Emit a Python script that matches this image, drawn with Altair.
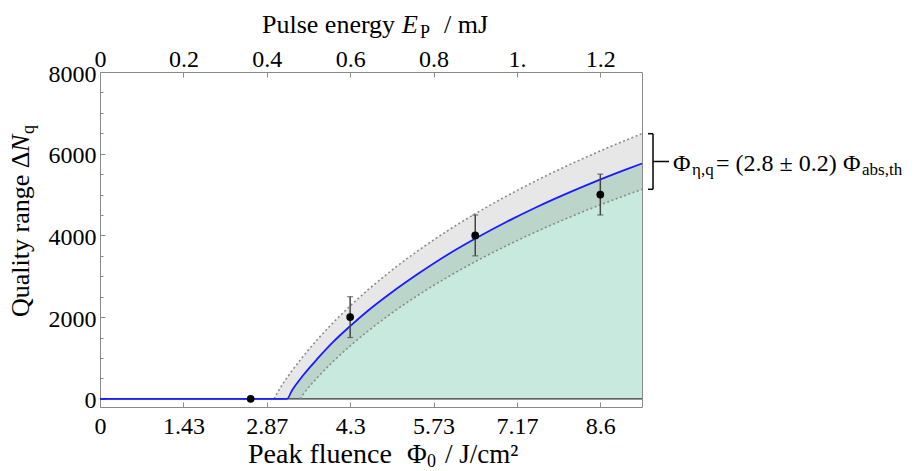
import json

import altair as alt
import pandas as pd

FONT = "'Liberation Serif', 'Times New Roman', serif"

# Top axis: pulse energy (mJ); bottom axis: the matching peak fluence (J/cm^2)
energy_ticks = [0, 0.2, 0.4, 0.6, 0.8, 1.0, 1.2]
energy_labels = ["0", "0.2", "0.4", "0.6", "0.8", "1.", "1.2"]
fluence_labels = ["0", "1.43", "2.87", "4.3", "5.73", "7.17", "8.6"]
FLUENCE_PER_MJ = 8.6 / 1.2
ENERGY_MAX = 1.3

y_major = [0, 2000, 4000, 6000, 8000]
y_minor = [500, 1000, 1500, 2500, 3000, 3500, 4500, 5000, 5500, 6500, 7000, 7500]

# Measured quality range with error bars
fluence = [2.59, 4.3, 6.45, 8.6]
quality = [0, 2000, 4000, 5000]
quality_err = [0, 500, 500, 500]

# Fitted quality range (blue curve)
fit_x = [0, 3.215, 3.3, 3.5, 3.75, 4.0, 4.3, 4.6, 5.0, 5.5, 6.0, 6.5, 7.0, 7.5,
         8.0, 8.5, 9.0, 9.317]
fit_y = [0, 0, 205, 590, 1000, 1380, 1780, 2150, 2590, 3090, 3550, 3960, 4340,
         4690, 5010, 5310, 5590, 5760]

# Uncertainty band of the fit (dotted bounds)
band_x = [2.99, 3.1, 3.3, 3.44, 3.5, 3.75, 4.0, 4.3, 4.6, 5.0, 5.5, 6.0, 6.5,
          7.0, 7.5, 8.0, 8.5, 9.0, 9.317]
band_hi = [0, 272, 686, 947, 1054, 1472, 1853, 2273, 2659, 3129, 3659, 4136,
           4572, 4972, 5341, 5685, 6006, 6308, 6490]
band_lo = [0, 0, 0, 0, 123, 540, 903, 1295, 1651, 2082, 2566, 3000, 3395,
           3757, 4092, 4403, 4693, 4964, 5129]

fl_ticks = [e * FLUENCE_PER_MJ for e in energy_ticks]
tick_step = 0.2 * FLUENCE_PER_MJ

pts = pd.DataFrame({"f": fluence, "n": quality, "e": quality_err})
pts["lo"] = pts["n"] - pts["e"]
pts["hi"] = pts["n"] + pts["e"]
err = pts[pts["e"] > 0]

fit = pd.DataFrame({"f": fit_x, "n": fit_y})
fit_on = fit[fit["f"] >= 3.215]
band = pd.DataFrame({"f": band_x, "hi": band_hi, "lo": band_lo})
band_lower = band[band["f"] >= 3.44]

xs = alt.Scale(domain=[0, ENERGY_MAX * FLUENCE_PER_MJ], nice=False, zero=False)
ys = alt.Scale(domain=[-200, 8000], nice=False, zero=False)


def X(field, axis=None):
    return alt.X(field, type="quantitative", scale=xs, axis=axis)


def Y(field, axis=None):
    return alt.Y(field, type="quantitative", scale=ys, axis=axis)


def label_expr(labels):
    return f"{json.dumps(labels)}[round(datum.value / {tick_step})]"


GRAY = "#8a8a8a"

ax_bottom = alt.Axis(orient="bottom", values=fl_ticks, labelExpr=label_expr(fluence_labels),
                     ticks=False, domain=False, grid=False, labelPadding=7,
                     labelFlush=False, labelOverlap=False, title=None)
ax_top = alt.Axis(orient="top", values=fl_ticks, labelExpr=label_expr(energy_labels),
                  ticks=False, domain=False, grid=False, labelPadding=1,
                  labelFlush=False, labelOverlap=False, title=None)
ax_left = alt.Axis(orient="left", values=y_major, format="d", ticks=False, domain=False,
                   grid=False, labelPadding=4, labelOffset=2, labelOverlap=False,
                   labelFlush=False, title=None)


def tick_axis(orient, values, size):
    # ticks drawn inside the frame by pulling the axis line inward
    return alt.Axis(orient=orient, values=values, labels=False, domain=False, grid=False,
                    ticks=True, tickSize=size, tickColor=GRAY, tickWidth=1,
                    offset=-size, title=None)


green = alt.Chart(fit_on).mark_area(color="#c8e9dd", opacity=1, interpolate="monotone").encode(
    x=X("f", ax_bottom), y=Y("n", ax_left), y2=alt.Y2(datum=0)
)
gray_band = alt.Chart(band).mark_area(color="#888888", opacity=0.2, interpolate="monotone").encode(
    x=X("f", ax_top), y=Y("lo"), y2="hi"
)
zero_line = alt.Chart(pd.DataFrame({"z": [0]})).mark_rule(color="#333333", strokeWidth=1.4).encode(
    y=Y("z")
)
upper = alt.Chart(band).mark_line(color=GRAY, strokeWidth=1.6, strokeDash=[2, 2.5],
                                  interpolate="monotone").encode(x=X("f"), y=Y("hi"))
lower = alt.Chart(band_lower).mark_line(color=GRAY, strokeWidth=1.6, strokeDash=[2, 2.5],
                                        interpolate="monotone").encode(x=X("f"), y=Y("lo"))
blue = alt.Chart(fit).mark_line(color="#1a1aff", strokeWidth=1.8, interpolate="monotone").encode(
    x=X("f"), y=Y("n")
)
bars = alt.Chart(err).mark_rule(color="#444444", strokeWidth=1.5).encode(
    x=X("f"), y=Y("lo"), y2="hi"
)
caps_hi = alt.Chart(err).mark_tick(color="#444444", orient="horizontal", size=6, thickness=1.2).encode(
    x=X("f"), y=Y("hi")
)
caps_lo = alt.Chart(err).mark_tick(color="#444444", orient="horizontal", size=6, thickness=1.2).encode(
    x=X("f"), y=Y("lo")
)
dots = alt.Chart(pts).mark_circle(color="black", opacity=1, size=60).encode(x=X("f"), y=Y("n"))


def carrier(xaxis=None, yaxis=None):
    return alt.Chart(pts).mark_point(opacity=0).encode(x=X("f", xaxis), y=Y("n", yaxis))


carriers = [
    carrier(xaxis=tick_axis("bottom", fl_ticks, 5)),
    carrier(xaxis=tick_axis("top", fl_ticks, 5)),
    carrier(yaxis=tick_axis("left", y_major, 5)),
    carrier(yaxis=tick_axis("left", y_minor, 3)),
]

# Curly bracket spanning the uncertainty band at the right edge
brk = pd.DataFrame({"hi": [band_hi[-1]], "lo": [band_lo[-1]]})
brk["mid"] = (brk["hi"] + brk["lo"]) / 2
bracket = [
    alt.Chart(brk).mark_rule(color="black", strokeWidth=1.5).encode(
        x=alt.value(553), y=Y("hi"), y2="lo"),
    alt.Chart(brk).mark_rule(color="black", strokeWidth=1.5).encode(
        x=alt.value(548), x2=alt.value(553), y=Y("hi")),
    alt.Chart(brk).mark_rule(color="black", strokeWidth=1.5).encode(
        x=alt.value(548), x2=alt.value(553), y=Y("lo")),
    alt.Chart(brk).mark_rule(color="black", strokeWidth=1.5).encode(
        x=alt.value(553), x2=alt.value(569), y=Y("mid")),
]


def text(s, x, y, size=26, style="normal", angle=0):
    return alt.Chart(pd.DataFrame({"t": [s]})).mark_text(
        font=FONT, fontSize=size, fontStyle=style, align="left", baseline="alphabetic",
        angle=angle, color="black"
    ).encode(text="t:N", x=alt.value(x), y=alt.value(y))


texts = [
    # top title
    text("Pulse energy", 162, -39),
    text("E", 302, -39, style="italic"),
    text("P", 320, -34, size=18),
    text("/ mJ", 344, -39),
    # bottom title
    text("Peak fluence", 148, 391, size=28),
    text("Φ", 307, 391, size=27),
    text("0", 327, 395, size=18),
    text("/ J/cm²", 345, 391, size=27),
    # left title
    text("Quality range Δ", -71, 245, angle=270),
    text("N", -71, 80, style="italic", angle=270),
    text("q", -66, 62, size=18, angle=270),
    # annotation
    text("Φ", 573, 99, size=24),
    text("η,q", 592, 103, size=17),
    text("= (2.8 ± 0.2)", 616, 99, size=24),
    text("Φ", 743, 99, size=24),
    text("abs,th", 762, 103, size=17),
]

chart = alt.layer(
    green, gray_band, zero_line, upper, lower, blue, bars, caps_hi, caps_lo, dots,
    *carriers, *bracket, *texts
).resolve_axis(
    x="independent", y="independent"
).properties(
    width=542, height=335,
    padding={"left": 100, "top": 72, "right": 277, "bottom": 64},
    autosize=alt.AutoSizeParams(type="none"),
    background="white",
).configure_view(
    stroke=GRAY, strokeWidth=1
).configure_axis(
    labelFont=FONT, labelFontSize=24, labelColor="black"
)

chart.save("out.html", embed_options={"renderer": "svg", "actions": False})
